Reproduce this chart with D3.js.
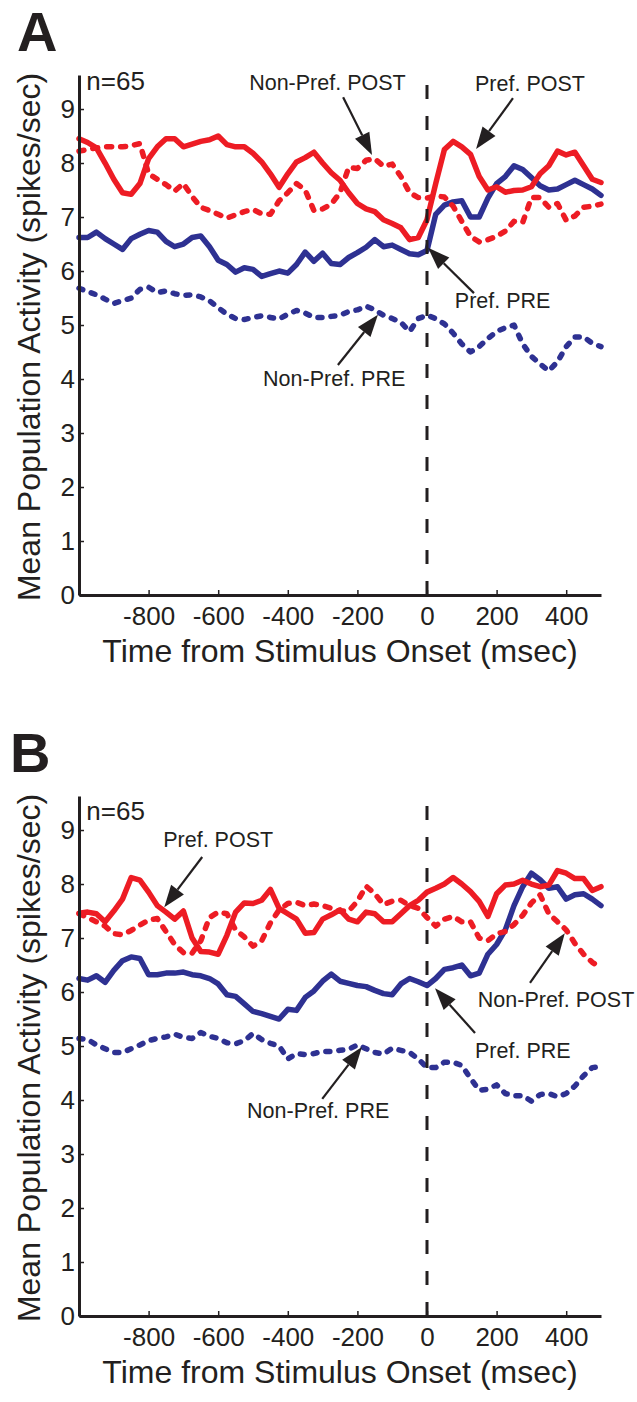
<!DOCTYPE html>
<html>
<head>
<meta charset="utf-8">
<script src="https://cdn.jsdelivr.net/npm/d3@7"></script>
<style>
  body { margin: 0; background: #fff; }
  svg { display: block; font-family: "Liberation Sans", Arial, sans-serif; }
  .axis path, .axis line { stroke: #231f20; }
  .axis text { font-family: "Liberation Sans", Arial, sans-serif; font-size: 26px; fill: #231f20; }
</style>
</head>
<body>
<div id="chart"></div>
<script>
/* Time bins (msec from stimulus onset) */
var time = [-1000, -975, -950, -925, -900, -875, -850, -825, -800, -775, -750, -725, -700, -675, -650, -625,
            -600, -575, -550, -525, -500, -475, -450, -425, -400, -375, -350, -325, -300, -275, -250, -225,
            -200, -175, -150, -125, -100, -75, -50, -25, 0, 25, 50, 75, 100, 125, 150, 175,
            200, 225, 250, 275, 300, 325, 350, 375, 400, 425, 450, 475, 500];

/* Panel A - mean population activity (spikes/sec) */
var prefPostA = [8.45, 8.38, 8.28, 8.0, 7.7, 7.45, 7.42, 7.62, 8.08, 8.3, 8.45, 8.45, 8.3, 8.35, 8.4, 8.43,
                 8.5, 8.34, 8.3, 8.3, 8.18, 8.02, 7.8, 7.55, 7.8, 8.02, 8.1, 8.2, 8.0, 7.82, 7.68, 7.45,
                 7.25, 7.15, 7.1, 6.95, 6.88, 6.8, 6.58, 6.62, 6.95, 7.62, 8.25, 8.4, 8.3, 8.16, 7.75, 7.5,
                 7.56, 7.46, 7.49, 7.5, 7.56, 7.8, 7.95, 8.22, 8.15, 8.2, 7.95, 7.7, 7.64];
var nonPrefPostA = [8.22, 8.25, 8.28, 8.3, 8.3, 8.3, 8.32, 8.36, 7.8, 7.7, 7.6, 7.48, 7.62, 7.38, 7.18, 7.12,
                    7.05, 6.98, 7.04, 7.1, 7.14, 7.06, 7.05, 7.3, 7.45, 7.62, 7.5, 7.12, 7.15, 7.24, 7.45, 7.92,
                    7.9, 8.05, 8.08, 7.94, 7.98, 7.75, 7.45, 7.36, 7.35, 7.39, 7.37, 7.2, 6.92, 6.64, 6.54, 6.58,
                    6.64, 6.74, 6.92, 6.9, 7.36, 7.36, 7.18, 7.25, 6.94, 7.02, 7.18, 7.2, 7.24];
var prefPreA = [6.62, 6.62, 6.72, 6.6, 6.5, 6.4, 6.6, 6.68, 6.75, 6.72, 6.55, 6.45, 6.5, 6.62, 6.65, 6.45,
                6.2, 6.12, 5.98, 6.06, 6.03, 5.9, 5.95, 6.0, 5.96, 6.12, 6.35, 6.18, 6.33, 6.14, 6.12, 6.25,
                6.34, 6.44, 6.58, 6.45, 6.48, 6.4, 6.32, 6.3, 6.38, 7.05, 7.22, 7.28, 7.3, 7.0, 7.0, 7.35,
                7.62, 7.75, 7.95, 7.88, 7.73, 7.58, 7.5, 7.52, 7.6, 7.68, 7.6, 7.52, 7.4];
var nonPrefPreA = [5.68, 5.62, 5.56, 5.48, 5.4, 5.45, 5.5, 5.66, 5.7, 5.6, 5.63, 5.58, 5.55, 5.56, 5.52, 5.45,
                   5.32, 5.2, 5.12, 5.1, 5.14, 5.17, 5.14, 5.11, 5.2, 5.27, 5.22, 5.14, 5.14, 5.16, 5.18, 5.25,
                   5.28, 5.35, 5.28, 5.18, 5.12, 5.05, 4.88, 5.12, 5.18, 5.12, 5.02, 4.85, 4.65, 4.5, 4.6, 4.75,
                   4.88, 4.95, 5.0, 4.65, 4.42, 4.28, 4.15, 4.32, 4.6, 4.78, 4.78, 4.66, 4.6];

/* Panel B */
var prefPostB = [7.46, 7.48, 7.45, 7.3, 7.5, 7.72, 8.12, 8.07, 7.85, 7.6, 7.48, 7.35, 7.5, 7.0, 6.75, 6.74,
                 6.7, 7.05, 7.48, 7.65, 7.64, 7.7, 7.9, 7.55, 7.45, 7.35, 7.09, 7.1, 7.35, 7.43, 7.52, 7.35,
                 7.3, 7.48, 7.45, 7.3, 7.3, 7.45, 7.6, 7.7, 7.85, 7.92, 8.0, 8.12, 8.0, 7.86, 7.68, 7.4,
                 7.82, 7.98, 8.0, 8.07, 8.0, 7.95, 7.98, 8.25, 8.2, 8.1, 8.1, 7.88, 7.95];
var nonPrefPostB = [7.45, 7.38, 7.3, 7.22, 7.08, 7.06, 7.14, 7.24, 7.33, 7.36, 7.12, 6.88, 6.73, 6.72, 6.95, 7.38,
                    7.48, 7.45, 7.15, 7.02, 6.85, 6.95, 7.28, 7.52, 7.64, 7.66, 7.6, 7.63, 7.6, 7.55, 7.5, 7.5,
                    7.68, 7.96, 7.82, 7.62, 7.68, 7.7, 7.6, 7.55, 7.38, 7.22, 7.35, 7.4, 7.3, 7.3, 7.0, 6.95,
                    7.08, 7.12, 7.25, 7.42, 7.65, 7.8, 7.45, 7.3, 7.15, 6.9, 6.7, 6.55, 6.45];
var prefPreB = [6.25, 6.22, 6.3, 6.18, 6.4, 6.58, 6.65, 6.62, 6.32, 6.32, 6.35, 6.35, 6.37, 6.32, 6.3, 6.25,
                6.15, 5.95, 5.92, 5.78, 5.64, 5.6, 5.55, 5.5, 5.68, 5.66, 5.9, 6.02, 6.2, 6.33, 6.2, 6.16,
                6.12, 6.1, 6.03, 5.97, 5.95, 6.15, 6.25, 6.19, 6.12, 6.25, 6.42, 6.45, 6.5, 6.3, 6.35, 6.7,
                6.88, 7.15, 7.6, 7.95, 8.2, 8.08, 7.92, 7.95, 7.72, 7.8, 7.82, 7.72, 7.6];
var nonPrefPreB = [5.14, 5.12, 5.02, 4.95, 4.88, 4.88, 4.95, 5.02, 5.1, 5.14, 5.17, 5.22, 5.16, 5.14, 5.25, 5.18,
                   5.14, 5.06, 5.04, 5.1, 5.23, 5.12, 5.05, 5.0, 4.76, 4.86, 4.84, 4.86, 4.9, 4.9, 4.92, 4.94,
                   5.02, 4.95, 4.88, 4.85, 4.96, 4.92, 4.88, 4.76, 4.6, 4.6, 4.7, 4.7, 4.64, 4.4, 4.18, 4.2,
                   4.28, 4.12, 4.08, 4.08, 3.98, 4.1, 4.12, 4.06, 4.12, 4.26, 4.45, 4.6, 4.62];

/* Axis ticks */
var xTicks = [-800, -600, -400, -200, 0, 200, 400];
var yTicks = [0, 1, 2, 3, 4, 5, 6, 7, 8, 9];

/* Annotations: label, text anchor point, arrow tail, arrow tip (data units) */
var labelsA = ["Non-Pref. POST", "Pref. POST", "Pref. PRE", "Non-Pref. PRE"];
var textPosA = [[-511, 9.35], [138, 9.33], [80, 5.31], [-471, 3.87]];
var tailA = [[-241, 9.22], [247, 9.2], [135, 5.59], [-256, 4.26]];
var tipA = [[-158, 8.15], [141, 8.26], [3, 6.43], [-141, 5.19]];

var labelsB = ["Pref. POST", "Non-Pref. POST", "Pref. PRE", "Non-Pref. PRE"];
var textPosB = [[-758, 8.69], [146, 5.72], [138, 4.78], [-517, 3.67]];
var tailB = [[-646, 8.5], [296, 6.17], [138, 5.24], [-301, 4.02]];
var tipB = [[-755, 7.57], [396, 7.09], [23, 6.07], [-187, 4.98]];

/* Colours */
var red = "#ed1c24", blue = "#2e3192", ink = "#231f20";

/* Dimensions of one panel (panel B is shifted down) */
var width = 637, height = 1402;
var plotLeft = 79, plotRight = 601, plotBottom = 595, plotTop = 75;

var svg = d3.select("#chart").append("svg").attr("width", width).attr("height", height);

var x = d3.scaleLinear().domain([-1000, 500]).range([plotLeft, plotRight]);
var y = d3.scaleLinear().domain([0, 9.63]).range([plotBottom, plotTop]);

var line = d3.line()
    .x(function(d, i) { return x(time[i]); })
    .y(function(d) { return y(d); });

drawPanel(0, "A", 17, 9.35,
          [prefPostA, nonPrefPostA, prefPreA, nonPrefPreA],
          labelsA, textPosA, tailA, tipA);
drawPanel(721, "B", 10, 9.19,
          [prefPostB, nonPrefPostB, prefPreB, nonPrefPreB],
          labelsB, textPosB, tailB, tipB);

function drawPanel(offset, letter, letterX, nY, series, labels, textPos, tails, tips) {

    var g = svg.append("g").attr("transform", "translate(0," + offset + ")");

    /* Panel letter */
    g.append("text")
        .attr("x", letterX)
        .attr("y", 51)
        .style("font-size", "56px")
        .style("font-weight", "bold")
        .style("fill", ink)
        .text(letter);

    /* Series: pref = solid, non-pref = dashed; POST red, PRE blue */
    var styles = [
        {color: red, dash: null},
        {color: red, dash: "5,9"},
        {color: blue, dash: null},
        {color: blue, dash: "4,9"}
    ];
    var order = [3, 2, 1, 0];
    order.forEach(function(k) {
        g.append("path")
            .datum(series[k])
            .attr("d", line)
            .attr("fill", "none")
            .attr("stroke", styles[k].color)
            .attr("stroke-width", 5.5)
            .attr("stroke-linejoin", "round")
            .attr("stroke-linecap", "round")
            .attr("stroke-dasharray", styles[k].dash);
    });

    /* Stimulus onset */
    g.append("line")
        .attr("x1", x(0)).attr("x2", x(0))
        .attr("y1", y(0)).attr("y2", y(9.63))
        .attr("stroke", ink)
        .attr("stroke-width", 3)
        .attr("stroke-dasharray", "14,17");

    /* Axes - plain hyphen for negative labels */
    var fmt = function(d) { return String(d); };
    var xAxis = d3.axisBottom(x).tickValues(xTicks).tickFormat(fmt)
        .tickSizeInner(-5).tickSizeOuter(0).tickPadding(12);
    var yAxis = d3.axisLeft(y).tickValues(yTicks).tickFormat(fmt)
        .tickSizeInner(-5).tickSizeOuter(0).tickPadding(4);

    var gx = g.append("g").attr("class", "axis").attr("transform", "translate(0," + plotBottom + ")").call(xAxis);
    var gy = g.append("g").attr("class", "axis").attr("transform", "translate(" + plotLeft + ",0)").call(yAxis);
    gx.select(".domain").attr("stroke-width", 3);
    gy.select(".domain").attr("stroke-width", 3);
    gx.selectAll(".tick line").attr("stroke-width", 1.5);
    gy.selectAll(".tick line").attr("stroke-width", 1.5);

    /* Axis titles */
    g.append("text")
        .attr("x", 340)
        .attr("y", 662)
        .attr("text-anchor", "middle")
        .style("font-size", "32px")
        .style("fill", ink)
        .text("Time from Stimulus Onset (msec)");

    g.append("text")
        .attr("transform", "translate(40," + 337 + ") rotate(-90)")
        .attr("text-anchor", "middle")
        .style("font-size", "32px")
        .style("fill", ink)
        .text("Mean Population Activity (spikes/sec)");

    /* n label */
    g.append("text")
        .attr("x", x(-979))
        .attr("y", y(nY))
        .style("font-size", "26px")
        .style("fill", ink)
        .text("n=65");

    /* Annotation labels and arrows */
    labels.forEach(function(lab, i) {
        g.append("text")
            .attr("x", x(textPos[i][0]))
            .attr("y", y(textPos[i][1]))
            .style("font-size", "21.5px")
            .style("fill", ink)
            .text(lab);
        arrow(g, x(tails[i][0]), y(tails[i][1]), x(tips[i][0]), y(tips[i][1]));
    });
}

/* Straight arrow with a filled triangular head */
function arrow(g, x1, y1, x2, y2) {
    var dx = x2 - x1, dy = y2 - y1;
    var len = Math.sqrt(dx * dx + dy * dy);
    var ux = dx / len, uy = dy / len;
    var head = 22, half = 8;
    var bx = x2 - ux * head, by = y2 - uy * head;

    g.append("line")
        .attr("x1", x1).attr("y1", y1)
        .attr("x2", bx).attr("y2", by)
        .attr("stroke", ink)
        .attr("stroke-width", 2.2);

    g.append("polygon")
        .attr("points", [
            [x2, y2],
            [bx - uy * half, by + ux * half],
            [bx + uy * half, by - ux * half]
        ].map(function(p) { return p.join(","); }).join(" "))
        .attr("fill", ink);
}
</script>
</body>
</html>
